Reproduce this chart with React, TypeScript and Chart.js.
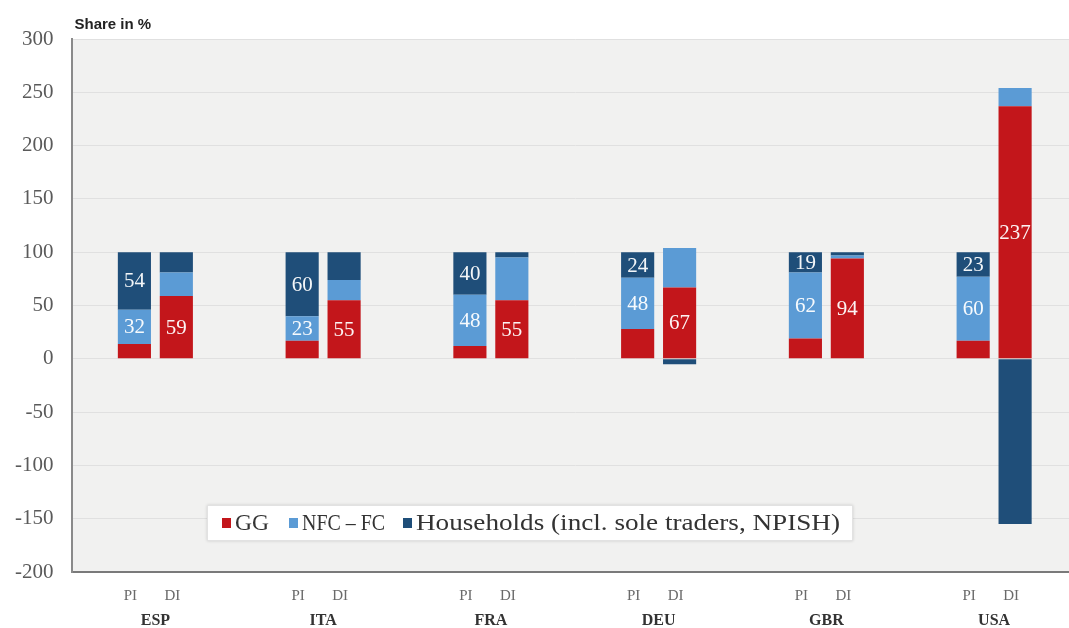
import React, { useEffect, useRef } from "react";
import { Chart, registerables } from "chart.js";

Chart.register(...registerables);

const countries = ["ESP", "ITA", "FRA", "DEU", "GBR", "USA"];
const stackLabels = ["PI", "DI"];
const seriesNames = ["GG", "NFC – FC", "Households (incl. sole traders, NPISH)"];

const ggPI = [14, 17, 12, 28, 19, 17];
const nfcPI = [32, 23, 48, 48, 62, 60];
const hhPI = [54, 60, 40, 24, 19, 23];

const ggDI = [59, 55, 55, 67, 94, 237];
const nfcDI = [22, 19, 40, 37, 3, 17];
const hhDI = [19, 26, 5, -5, 3, -155];

const yTicks = [-200, -150, -100, -50, 0, 50, 100, 150, 200, 250, 300];

const COLORS = ["#c3161b", "#5b9bd5", "#1f4e79"];
const SERIF = "'Liberation Serif', 'Times New Roman', serif";

export default function App() {
  const ref = useRef<HTMLCanvasElement | null>(null);

  useEffect(() => {
    document.body.style.margin = "0";
    const canvas = ref.current;
    if (!canvas) return;

    const mk = (si: number, stack: string, data: number[], labelled: boolean) => ({
      label: seriesNames[si],
      data,
      stack,
      backgroundColor: COLORS[si],
      borderWidth: 0,
      categoryPercentage: 0.5,
      barPercentage: 0.79,
      labelled,
    });

    const datasets: any[] = [
      mk(0, stackLabels[0], ggPI, false),
      mk(1, stackLabels[0], nfcPI, true),
      mk(2, stackLabels[0], hhPI, true),
      mk(0, stackLabels[1], ggDI, true),
      mk(1, stackLabels[1], nfcDI, false),
      mk(2, stackLabels[1], hhDI, false),
    ];

    const bgPlugin = {
      id: "bg",
      beforeDraw(chart: any) {
        const { ctx, chartArea: a } = chart;
        ctx.save();
        ctx.fillStyle = "#f1f1f0";
        ctx.fillRect(a.left, a.top, a.right - a.left, a.bottom - a.top);
        ctx.restore();
      },
    };

    const fitText = (ctx: any, text: string, x: number, y: number, width: number) => {
      const w = ctx.measureText(text).width;
      ctx.save();
      ctx.translate(x, y);
      ctx.scale(width / w, 1);
      ctx.fillText(text, 0, 0);
      ctx.restore();
    };

    const overlayPlugin = {
      id: "overlay",
      afterDatasetsDraw(chart: any) {
        const { ctx, chartArea: a } = chart;
        ctx.save();
        // segment labels
        ctx.font = `21px ${SERIF}`;
        ctx.fillStyle = "rgba(255,255,255,0.95)";
        ctx.textAlign = "center";
        ctx.textBaseline = "middle";
        chart.data.datasets.forEach((ds: any, i: number) => {
          if (!ds.labelled) return;
          const meta = chart.getDatasetMeta(i);
          meta.data.forEach((el: any, j: number) => {
            const p = el.getProps(["x", "y", "base"], true);
            ctx.fillText(String(ds.data[j]), p.x, (p.y + p.base) / 2 + 1);
          });
        });

        // PI / DI labels
        ctx.font = `15px ${SERIF}`;
        ctx.fillStyle = "#6a6a6a";
        [0, 3].forEach((di, k) => {
          const meta = chart.getDatasetMeta(di);
          meta.data.forEach((el: any) => {
            ctx.fillText(stackLabels[k], el.x - 4, a.bottom + 24);
          });
        });

        // y title
        ctx.font = "bold 15px 'Liberation Sans', Arial, sans-serif";
        ctx.fillStyle = "#222";
        ctx.textAlign = "left";
        ctx.fillText("Share in %", a.left + 3, 25);

        // legend box
        const bx = 207, by = 505, bw = 646, bh = 36;
        ctx.fillStyle = "#ffffff";
        ctx.shadowColor = "rgba(0,0,0,0.15)";
        ctx.shadowBlur = 3;
        ctx.fillRect(bx, by, bw, bh);
        ctx.shadowBlur = 0;
        ctx.strokeStyle = "#e2e2e2";
        ctx.lineWidth = 1;
        ctx.strokeRect(bx + 0.5, by + 0.5, bw - 1, bh - 1);
        ctx.font = `24px ${SERIF}`;
        const cy = by + bh / 2;
        const starts = [222, 289, 403];
        const widths = [34, 83, 424];
        seriesNames.forEach((n, i) => {
          ctx.fillStyle = COLORS[i];
          ctx.fillRect(starts[i], cy - 5, 9, 10);
          ctx.fillStyle = "#333";
          fitText(ctx, n, starts[i] + 13, cy + 1, widths[i]);
        });
        ctx.restore();
      },
    };

    const chart = new Chart(canvas, {
      type: "bar",
      data: { labels: countries, datasets },
      plugins: [bgPlugin, overlayPlugin],
      options: {
        animation: false,
        responsive: true,
        maintainAspectRatio: false,
        layout: { padding: { top: 39, right: 0, bottom: 0, left: 0 } },
        plugins: {
          legend: { display: false },
          tooltip: { enabled: false },
          title: { display: false },
        },
        scales: {
          x: {
            stacked: true,
            grid: { display: false, drawTicks: false },
            border: { display: true, color: "#7a7a7a", width: 2 },
            ticks: {
              font: { family: SERIF, size: 16, weight: "bold" },
              color: "#333",
              padding: 39,
            },
            afterFit(scale: any) {
              scale.height = 56;
            },
          },
          y: {
            stacked: true,
            min: -200,
            max: 300,
            afterBuildTicks(scale: any) {
              scale.ticks = yTicks.map((v) => ({ value: v }));
            },
            grid: { color: "#e0e0e0", lineWidth: 1, drawTicks: false },
            border: { display: true, color: "#8a8a8a", width: 2 },
            ticks: {
              font: { family: SERIF, size: 21 },
              color: "#5a5a5a",
              padding: 18,
            },
            afterFit(scale: any) {
              scale.width = 71.5;
            },
          },
        },
      } as any,
    });

    return () => chart.destroy();
  }, []);

  return (
    <div style={{ width: 1069, height: 628, overflow: "hidden", position: "relative" }}>
      <div style={{ width: 1078, height: 628, position: "absolute", left: 0, top: 0 }}>
        <canvas ref={ref} />
      </div>
    </div>
  );
}
